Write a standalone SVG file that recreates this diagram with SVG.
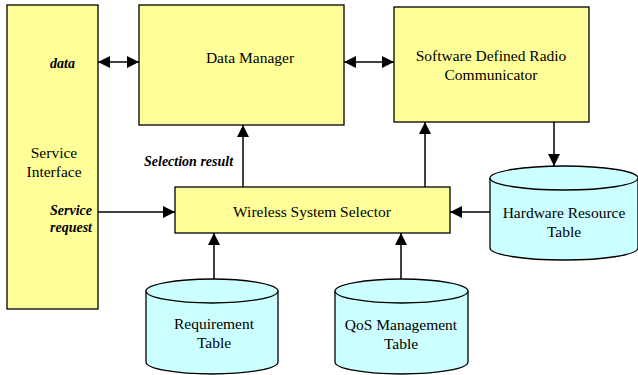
<svg xmlns="http://www.w3.org/2000/svg" width="638" height="375" viewBox="0 0 638 375" font-family="Liberation Serif, serif">
<style>
.box{fill:#FFFF99;stroke:#000;stroke-width:1.3}
.cyl{fill:#CCFFFF;stroke:#000;stroke-width:1.3}
.c{stroke:#000;stroke-width:1.5;fill:none}
</style>
<defs>
<marker id="ah" viewBox="0 0 10 10" refX="10" refY="5" markerWidth="12" markerHeight="12" markerUnits="userSpaceOnUse" orient="auto-start-reverse">
<path d="M0,0 L10,5 L0,10 z" fill="#000"/>
</marker>
</defs>
<g id="service-interface">
<rect class="box" x="7" y="5" width="91" height="304"/>
<g font-size="15.5" text-anchor="middle" font-family="Liberation Serif, serif">
<text x="54" y="158">Service</text>
<text x="54" y="177">Interface</text>
</g>
</g>
<g id="data-manager">
<rect class="box" x="139" y="5" width="205" height="120"/>
<text x="250" y="63" font-size="15.5" text-anchor="middle" font-family="Liberation Serif, serif">Data Manager</text>
</g>
<g id="sdr-communicator">
<rect class="box" x="394" y="7" width="195" height="115"/>
<g font-size="15.5" text-anchor="middle" font-family="Liberation Serif, serif">
<text x="491" y="61">Software Defined Radio</text>
<text x="491" y="80">Communicator</text>
</g>
</g>
<g id="wireless-system-selector">
<rect class="box" x="175" y="187" width="275" height="46"/>
<text x="312" y="217" font-size="15.5" text-anchor="middle" font-family="Liberation Serif, serif">Wireless System Selector</text>
</g>
<g id="hardware-resource-table">
<path class="cyl" d="M490,178 A74,12 0 0 1 638,178 L638,248 A74,12 0 0 1 490,248 Z"/>
<path class="cyl" d="M490,178 A74,12 0 0 0 638,178"/>
<g font-size="15.5" text-anchor="middle" font-family="Liberation Serif, serif">
<text x="564" y="218">Hardware Resource</text>
<text x="564" y="237">Table</text>
</g>
</g>
<g id="requirement-table">
<path class="cyl" d="M146,291 A66,12 0 0 1 278,291 L278,362 A66,12 0 0 1 146,362 Z"/>
<path class="cyl" d="M146,291 A66,12 0 0 0 278,291"/>
<g font-size="15.5" text-anchor="middle" font-family="Liberation Serif, serif">
<text x="214" y="329">Requirement</text>
<text x="214" y="348">Table</text>
</g>
</g>
<g id="qos-management-table">
<path class="cyl" d="M335,291 A66.5,12 0 0 1 468,291 L468,362 A66.5,12 0 0 1 335,362 Z"/>
<path class="cyl" d="M335,291 A66.5,12 0 0 0 468,291"/>
<g font-size="15.5" text-anchor="middle" font-family="Liberation Serif, serif">
<text x="401" y="330">QoS Management</text>
<text x="401" y="349">Table</text>
</g>
</g>
<g id="connectors">
<line class="c" x1="98" y1="62" x2="139" y2="62" marker-start="url(#ah)" marker-end="url(#ah)"/>
<line class="c" x1="344" y1="62" x2="394" y2="62" marker-start="url(#ah)" marker-end="url(#ah)"/>
<line class="c" x1="243" y1="187" x2="243" y2="125" marker-end="url(#ah)"/>
<line class="c" x1="425" y1="187" x2="425" y2="122" marker-end="url(#ah)"/>
<line class="c" x1="554" y1="122" x2="554" y2="166" marker-end="url(#ah)"/>
<line class="c" x1="98" y1="212" x2="175" y2="212" marker-end="url(#ah)"/>
<line class="c" x1="490" y1="212" x2="450" y2="212" marker-end="url(#ah)"/>
<line class="c" x1="214" y1="279" x2="214" y2="233" marker-end="url(#ah)"/>
<line class="c" x1="401" y1="279" x2="401" y2="233" marker-end="url(#ah)"/>
<g font-size="14" font-weight="bold" font-style="italic" font-family="Liberation Serif, serif">
<text x="50" y="68">data</text>
<text x="144" y="166">Selection result</text>
<text x="92" y="215" text-anchor="end">Service</text>
<text x="92" y="232" text-anchor="end">request</text>
</g>
</g>
</svg>
